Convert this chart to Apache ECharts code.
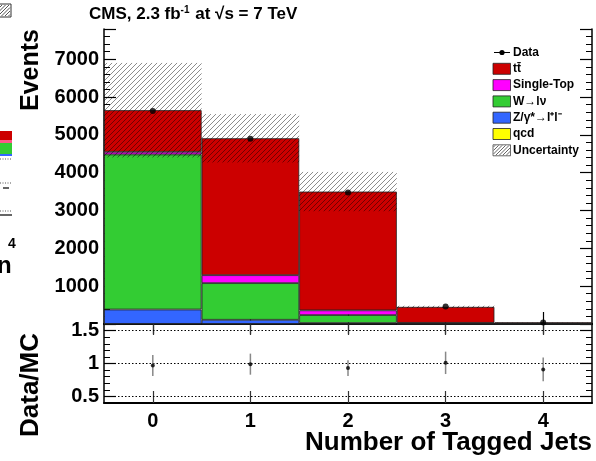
<!DOCTYPE html>
<html>
<head>
<meta charset="utf-8">
<script src="https://cdn.jsdelivr.net/npm/echarts@6/dist/echarts.min.js"></script>
<style>
html,body{margin:0;padding:0;background:#fff;}
#chart{width:596px;height:461px;}
</style>
</head>
<body>
<div id="chart"></div>
<script>
// ---- data ----
const categories = ['0', '1', '2', '3', '4'];
const qcd        = [3, 1, 1, 0, 1];
const zll        = [380, 110, 25, 5, 2];
const wlnu       = [4100, 970, 210, 10, 5];
const singleTop  = [70, 210, 125, 15, 6];
const ttbar      = [1100, 3620, 3140, 422, 30];
const mcUncert   = [1250, 640, 520, 30, 5];
const dataEvents = [5630, 4900, 3475, 462, 40];
const ratio      = [0.97, 0.99, 0.93, 1.01, 0.91];
const ratioErr   = [0.16, 0.16, 0.12, 0.17, 0.18];
const yTicksTop  = [1000, 2000, 3000, 4000, 5000, 6000, 7000];
const yTicksRatio = [0.5, 1, 1.5];

const FONT = 'Liberation Sans, Arial, Helvetica, sans-serif';
const C_TT = '#cc0000', C_ST = '#ff00ff', C_W = '#33cc33', C_Z = '#3366ff', C_QCD = '#ffff00';

const mcTotal = categories.map((_, i) => qcd[i] + zll[i] + wlnu[i] + singleTop[i] + ttbar[i]);
const hatchData = categories.map((_, i) => [i, mcTotal[i] - mcUncert[i], mcTotal[i] + mcUncert[i]]);
const ratioErrData = categories.map((_, i) => [i, ratio[i] - ratioErr[i], ratio[i] + ratioErr[i]]);

function hatchLines(x0, y0, x1, y1, step, color) {
  const out = [];
  const kStart = Math.ceil((x0 + y0) / step) * step;
  for (let k = kStart; k <= x1 + y1; k += step) {
    const xa = Math.max(x0, k - y1), xb = Math.min(x1, k - y0);
    if (xb <= xa) continue;
    out.push({type: 'line', shape: {x1: xa, y1: k - xa, x2: xb, y2: k - xb},
      style: {stroke: color, lineWidth: 1}});
  }
  return out;
}

const chart = echarts.init(document.getElementById('chart'), null, {renderer: 'canvas'});

const axisLineStyle = {color: '#000', width: 1.5};
const labelStyle = {fontFamily: FONT, fontWeight: 'bold', fontSize: 20, color: '#000'};

function barSeries(name, values, color) {
  return {
    name, type: 'bar', stack: 'mc', xAxisIndex: 0, yAxisIndex: 0,
    data: values, barWidth: '100%', barCategoryGap: '0%',
    itemStyle: {color, borderColor: '#222', borderWidth: 0.8},
    emphasis: {disabled: true}, animation: false, z: 2
  };
}

// legend entries drawn as graphics
const legendItems = [
  {label: 'Data', kind: 'data'},
  {label: 'tt\u0304', color: C_TT},
  {label: 'Single-Top', color: C_ST},
  {label: 'W\u2192l\u03bd', color: C_W},
  {label: 'Z/\u03b3*\u2192l\u207al\u207b', color: C_Z},
  {label: 'qcd', color: C_QCD},
  {label: 'Uncertainty', kind: 'hatch'}
];
const legendGraphics = [];
legendItems.forEach((it, i) => {
  const cy = 52.5 + i * 16.3;
  if (it.kind === 'data') {
    legendGraphics.push({type: 'line', shape: {x1: 494, y1: cy, x2: 510, y2: cy}, style: {stroke: '#000', lineWidth: 1}});
    legendGraphics.push({type: 'circle', shape: {cx: 502, cy: cy, r: 2.6}, style: {fill: '#000'}});
  } else if (it.kind === 'hatch') {
    legendGraphics.push({type: 'rect', shape: {x: 493, y: cy - 5.5, width: 17.5, height: 11}, style: {fill: '#fff', stroke: '#444', lineWidth: 0.8}});
    hatchLines(493.5, cy - 5, 510, cy + 5, 3.5, '#666').forEach(g => legendGraphics.push(g));
  } else {
    legendGraphics.push({type: 'rect', shape: {x: 493, y: cy - 5.5, width: 17.5, height: 11}, style: {fill: it.color, stroke: '#222', lineWidth: 0.8}});
  }
  legendGraphics.push({type: 'text', x: 513, y: cy, style: {text: it.label, fontFamily: FONT, fontWeight: 'bold', fontSize: 12, fill: '#000', align: 'left', verticalAlign: 'middle'}});
});

// fragments of the neighbouring figure at the left edge
const leftFragments = [
  {type: 'rect', shape: {x: -2, y: 4, width: 13, height: 13}, style: {fill: '#fff', stroke: '#333', lineWidth: 1}},
  ...hatchLines(-1, 5, 10, 16, 3.5, '#555'),
  {type: 'rect', shape: {x: 0, y: 131, width: 12, height: 9}, style: {fill: C_TT}},
  {type: 'rect', shape: {x: 0, y: 140, width: 12, height: 3}, style: {fill: '#ff5588'}},
  {type: 'rect', shape: {x: 0, y: 143, width: 12, height: 11}, style: {fill: C_W}},
  {type: 'rect', shape: {x: 0, y: 154, width: 12, height: 2}, style: {fill: C_Z}},
  {type: 'line', shape: {x1: 0, y1: 159, x2: 12, y2: 159}, style: {stroke: '#555', lineWidth: 1, lineDash: [1, 1.5]}},
  {type: 'line', shape: {x1: 0, y1: 183, x2: 12, y2: 183}, style: {stroke: '#555', lineWidth: 1, lineDash: [1, 1.5]}},
  {type: 'line', shape: {x1: 3, y1: 188, x2: 9, y2: 188}, style: {stroke: '#000', lineWidth: 1.2}},
  {type: 'line', shape: {x1: 0, y1: 211, x2: 12, y2: 211}, style: {stroke: '#555', lineWidth: 1, lineDash: [1, 1.5]}},
  {type: 'line', shape: {x1: 0, y1: 215, x2: 12, y2: 215}, style: {stroke: '#000', lineWidth: 1.2}},
  {type: 'text', x: 8, y: 244, style: {text: '4', fontFamily: FONT, fontWeight: 'bold', fontSize: 14, fill: '#000', align: 'left', verticalAlign: 'middle'}},
  {type: 'text', x: -3, y: 266, style: {text: 'n', fontFamily: FONT, fontWeight: 'bold', fontSize: 24, fill: '#000', align: 'left', verticalAlign: 'middle'}}
];

function ratioMajorAxis(position) {
  return {type: 'value', gridIndex: 1, position, min: 0.4, max: 1.6,
    axisLine: {show: false},
    axisTick: {show: true, inside: true, length: 12, customValues: yTicksRatio, lineStyle: {color: '#000', width: 1.2}},
    axisLabel: {show: false}, splitLine: {show: false}};
}

const option = {
  animation: false,
  backgroundColor: '#fff',
  grid: [
    {left: 104, right: 4, top: 29, height: 295},
    {left: 104, right: 4, top: 324, height: 79}
  ],
  xAxis: [
    {type: 'category', data: categories, gridIndex: 0, position: 'bottom',
      axisLine: {lineStyle: {color: '#000', width: 2}},
      axisTick: {show: true, inside: true, alignWithLabel: true, length: 12, lineStyle: {color: '#000', width: 1.2}},
      axisLabel: {show: false}, splitLine: {show: false}},
    {type: 'category', data: categories, gridIndex: 0, position: 'top',
      axisLine: {lineStyle: axisLineStyle},
      axisTick: {show: true, inside: true, alignWithLabel: true, length: 10, lineStyle: {color: '#000', width: 1.2}},
      axisLabel: {show: false}, splitLine: {show: false}},
    {type: 'category', data: categories, gridIndex: 1, position: 'bottom',
      axisLine: {lineStyle: {color: '#000', width: 2}},
      axisTick: {show: true, inside: true, alignWithLabel: true, length: 12, lineStyle: {color: '#333', width: 1.2}},
      axisLabel: Object.assign({margin: 8}, labelStyle), splitLine: {show: false}},
    {type: 'category', data: categories, gridIndex: 1, position: 'top',
      axisLine: {show: false},
      axisTick: {show: true, inside: true, alignWithLabel: true, length: 11, lineStyle: {color: '#333', width: 1.2}},
      axisLabel: {show: false}, splitLine: {show: false}}
  ],
  yAxis: [
    {type: 'value', gridIndex: 0, position: 'left', min: 0, max: 7800, interval: 1000,
      axisLine: {show: true, lineStyle: axisLineStyle},
      axisTick: {show: true, inside: true, length: 12, lineStyle: {color: '#000', width: 1.2}},
      minorTick: {show: true, splitNumber: 5, length: 6, lineStyle: {color: '#000', width: 1}},
      axisLabel: Object.assign({margin: 5, showMinLabel: false, showMaxLabel: false,
        formatter: v => (yTicksTop.indexOf(v) >= 0 ? String(v) : '')}, labelStyle),
      splitLine: {show: false}, minorSplitLine: {show: false}},
    {type: 'value', gridIndex: 0, position: 'right', min: 0, max: 7800, interval: 1000,
      axisLine: {show: true, lineStyle: axisLineStyle},
      axisTick: {show: true, inside: true, length: 12, lineStyle: {color: '#000', width: 1.2}},
      minorTick: {show: true, splitNumber: 5, length: 6, lineStyle: {color: '#000', width: 1}},
      axisLabel: {show: false}, splitLine: {show: false}},
    {type: 'value', gridIndex: 1, position: 'left', min: 0.4, max: 1.6, interval: 0.1,
      axisLine: {show: true, lineStyle: axisLineStyle},
      axisTick: {show: true, inside: true, length: 6, lineStyle: {color: '#000', width: 1}},
      axisLabel: Object.assign({margin: 5, showMinLabel: false, showMaxLabel: false,
        formatter: v => {
          const hit = yTicksRatio.find(t => Math.abs(t - v) < 1e-6);
          return hit === undefined ? '' : String(hit);
        }}, labelStyle),
      splitLine: {show: false}},
    {type: 'value', gridIndex: 1, position: 'right', min: 0.4, max: 1.6, interval: 0.1,
      axisLine: {show: true, lineStyle: axisLineStyle},
      axisTick: {show: true, inside: true, length: 6, lineStyle: {color: '#000', width: 1}},
      axisLabel: {show: false}, splitLine: {show: false}},
    ratioMajorAxis('left'),
    ratioMajorAxis('right')
  ],
  series: [
    barSeries('qcd', qcd, C_QCD),
    barSeries('Z/\u03b3*\u2192l\u207al\u207b', zll, C_Z),
    barSeries('W\u2192l\u03bd', wlnu, C_W),
    barSeries('Single-Top', singleTop, C_ST),
    barSeries('tt\u0304', ttbar, C_TT),
    {
      name: 'Uncertainty', type: 'custom', xAxisIndex: 0, yAxisIndex: 0, z: 5,
      data: hatchData, encode: {x: 0, y: [1, 2]},
      renderItem: function (params, api) {
        const i = api.value(0);
        const top = api.coord([i, api.value(2)]);
        const bot = api.coord([i, api.value(1)]);
        const w = api.size([1, 0])[0];
        const x0 = top[0] - w / 2, x1 = top[0] + w / 2;
        return {type: 'group', children: hatchLines(x0, top[1], x1, bot[1], 5, 'rgba(0,0,0,0.45)')};
      }
    },
    {
      name: 'Data', type: 'scatter', xAxisIndex: 0, yAxisIndex: 0, z: 10,
      data: dataEvents, symbol: 'circle', symbolSize: 6,
      itemStyle: {color: '#000'}
    },
    {
      name: 'Ratio error', type: 'custom', xAxisIndex: 2, yAxisIndex: 2, z: 6,
      data: ratioErrData, encode: {x: 0, y: [1, 2]},
      renderItem: function (params, api) {
        const i = api.value(0);
        const a = api.coord([i, api.value(1)]);
        const b = api.coord([i, api.value(2)]);
        return {type: 'line', shape: {x1: a[0], y1: a[1], x2: b[0], y2: b[1]},
          style: {stroke: '#888', lineWidth: 1.5}};
      }
    },
    {
      name: 'Data/MC', type: 'scatter', xAxisIndex: 2, yAxisIndex: 2, z: 10,
      data: ratio, symbol: 'circle', symbolSize: 4,
      itemStyle: {color: '#000'},
      markLine: {
        silent: true, symbol: 'none', label: {show: false}, animation: false,
        lineStyle: {color: '#000', width: 1, type: [1.5, 2]},
        data: yTicksRatio.map(v => ({yAxis: v}))
      }
    }
  ],
  graphic: [
    {type: 'text', x: 89, y: 14, style: {
      text: 'CMS, 2.3 fb{sup|-1} at \u221as = 7 TeV',
      rich: {sup: {fontSize: 10, fontWeight: 'bold', fontFamily: FONT, verticalAlign: 'top', padding: [0, 1, 8, 0]}},
      fontFamily: FONT, fontWeight: 'bold', fontSize: 17, fill: '#000', align: 'left', verticalAlign: 'middle'}},
    {type: 'text', x: 31, y: 29, rotation: Math.PI / 2, style: {
      text: 'Events', fontFamily: FONT, fontWeight: 'bold', fontSize: 25, fill: '#000', align: 'right', verticalAlign: 'middle'}},
    {type: 'text', x: 31, y: 385, rotation: Math.PI / 2, style: {
      text: 'Data/MC', fontFamily: FONT, fontWeight: 'bold', fontSize: 26, fill: '#000', align: 'center', verticalAlign: 'middle'}},
    {type: 'text', x: 592, y: 443, style: {
      text: 'Number of Tagged Jets', fontFamily: FONT, fontWeight: 'bold', fontSize: 26, fill: '#000', align: 'right', verticalAlign: 'middle'}},
    ...legendGraphics,
    ...leftFragments
  ]
};
chart.setOption(option);
</script>
</body>
</html>
